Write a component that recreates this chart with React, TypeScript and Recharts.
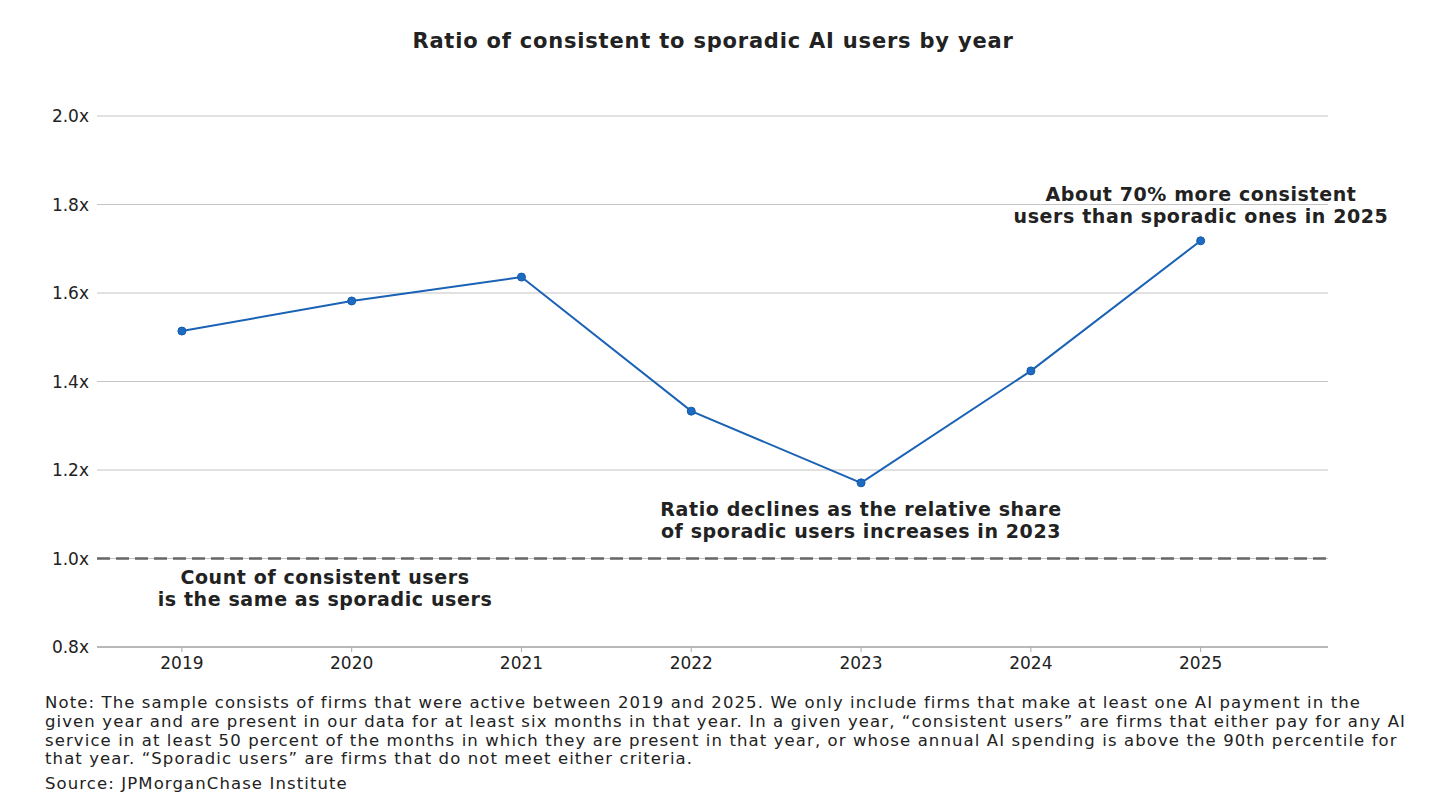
import { LineChart, Line, XAxis, YAxis, CartesianGrid, ReferenceLine } from "recharts";

const years = [2019, 2020, 2021, 2022, 2023, 2024, 2025];
const ratios = [1.514, 1.582, 1.636, 1.333, 1.171, 1.424, 1.718];
const yTicks = [0.8, 1.0, 1.2, 1.4, 1.6, 1.8, 2.0];

const data = years.map((year, i) => ({ year, ratio: ratios[i] }));

const title = "Ratio of consistent to sporadic AI users by year";
const noteLines = [
  "Note: The sample consists of firms that were active between 2019 and 2025. We only include firms that make at least one AI payment in the",
  "given year and are present in our data for at least six months in that year. In a given year, \u201cconsistent users\u201d are firms that either pay for any AI",
  "service in at least 50 percent of the months in which they are present in that year, or whose annual AI spending is above the 90th percentile for",
  "that year. \u201cSporadic users\u201d are firms that do not meet either criteria.",
];
const source = "Source: JPMorganChase Institute";

const annotations = [
  { lines: ["About 70% more consistent", "users than sporadic ones in 2025"], x: 1201, y: 183 },
  { lines: ["Ratio declines as the relative share", "of sporadic users increases in 2023"], x: 861, y: 498 },
  { lines: ["Count of consistent users", "is the same as sporadic users"], x: 325, y: 566 },
];

const font = "'DejaVu Sans', 'Noto Sans', sans-serif";

export default function App() {
  return (
    <div style={{ position: "relative", width: 1440, height: 810, background: "#fff", fontFamily: font, color: "#222" }}>
      <style>{"body{margin:0}"}</style>
      <div
        style={{
          position: "absolute",
          top: 29,
          left: 0,
          width: 1426,
          textAlign: "center",
          fontSize: 21,
          fontWeight: 700,
          letterSpacing: 0.8,
        }}
      >
        {title}
      </div>
      <div style={{ position: "absolute", top: 0, left: 0 }}>
        <LineChart width={1440} height={700} data={data} margin={{ top: 116, right: 112, left: 0, bottom: 23 }}>
          <CartesianGrid vertical={false} stroke="#c4c4c4" strokeWidth={1.2} />
          <XAxis
            dataKey="year"
            type="number"
            domain={[2018.5, 2025.75]}
            ticks={years}
            height={30}
            axisLine={{ stroke: "#aaa", strokeWidth: 1.5 }}
            tickLine={{ stroke: "#aaa" }}
            tickSize={5}
            tickMargin={5}
            tick={{ fontSize: 17, fill: "#222", fontFamily: font }}
          />
          <YAxis
            domain={[0.8, 2.0]}
            ticks={yTicks}
            width={97}
            axisLine={false}
            tickLine={false}
            tickFormatter={(v: number) => `${v.toFixed(1)}x`}
            tick={{ fontSize: 17, fill: "#222", fontFamily: font }}
          />
          <ReferenceLine y={1} stroke="#666" strokeWidth={2.5} strokeDasharray="13 6" />
          <Line
            type="linear"
            dataKey="ratio"
            stroke="#1a62b5"
            strokeWidth={2}
            dot={{ r: 4, fill: "#1d6cc4", stroke: "#155aa6", strokeWidth: 1 }}
            isAnimationActive={false}
          />
        </LineChart>
      </div>
      {annotations.map((a, i) => (
        <div
          key={i}
          style={{
            position: "absolute",
            left: a.x - 250,
            top: a.y,
            width: 500,
            textAlign: "center",
            fontSize: 19,
            fontWeight: 700,
            lineHeight: "22px",
            letterSpacing: 0.6,
          }}
        >
          {a.lines.map((l, j) => (
            <div key={j}>{l}</div>
          ))}
        </div>
      ))}
      <div
        style={{
          position: "absolute",
          left: 45,
          top: 694,
          fontSize: 16.5,
          lineHeight: "18.8px",
          letterSpacing: 1.1,
          whiteSpace: "nowrap",
        }}
      >
        {noteLines.map((l, i) => (
          <div key={i}>{l}</div>
        ))}
        <div style={{ marginTop: 6 }}>{source}</div>
      </div>
    </div>
  );
}
